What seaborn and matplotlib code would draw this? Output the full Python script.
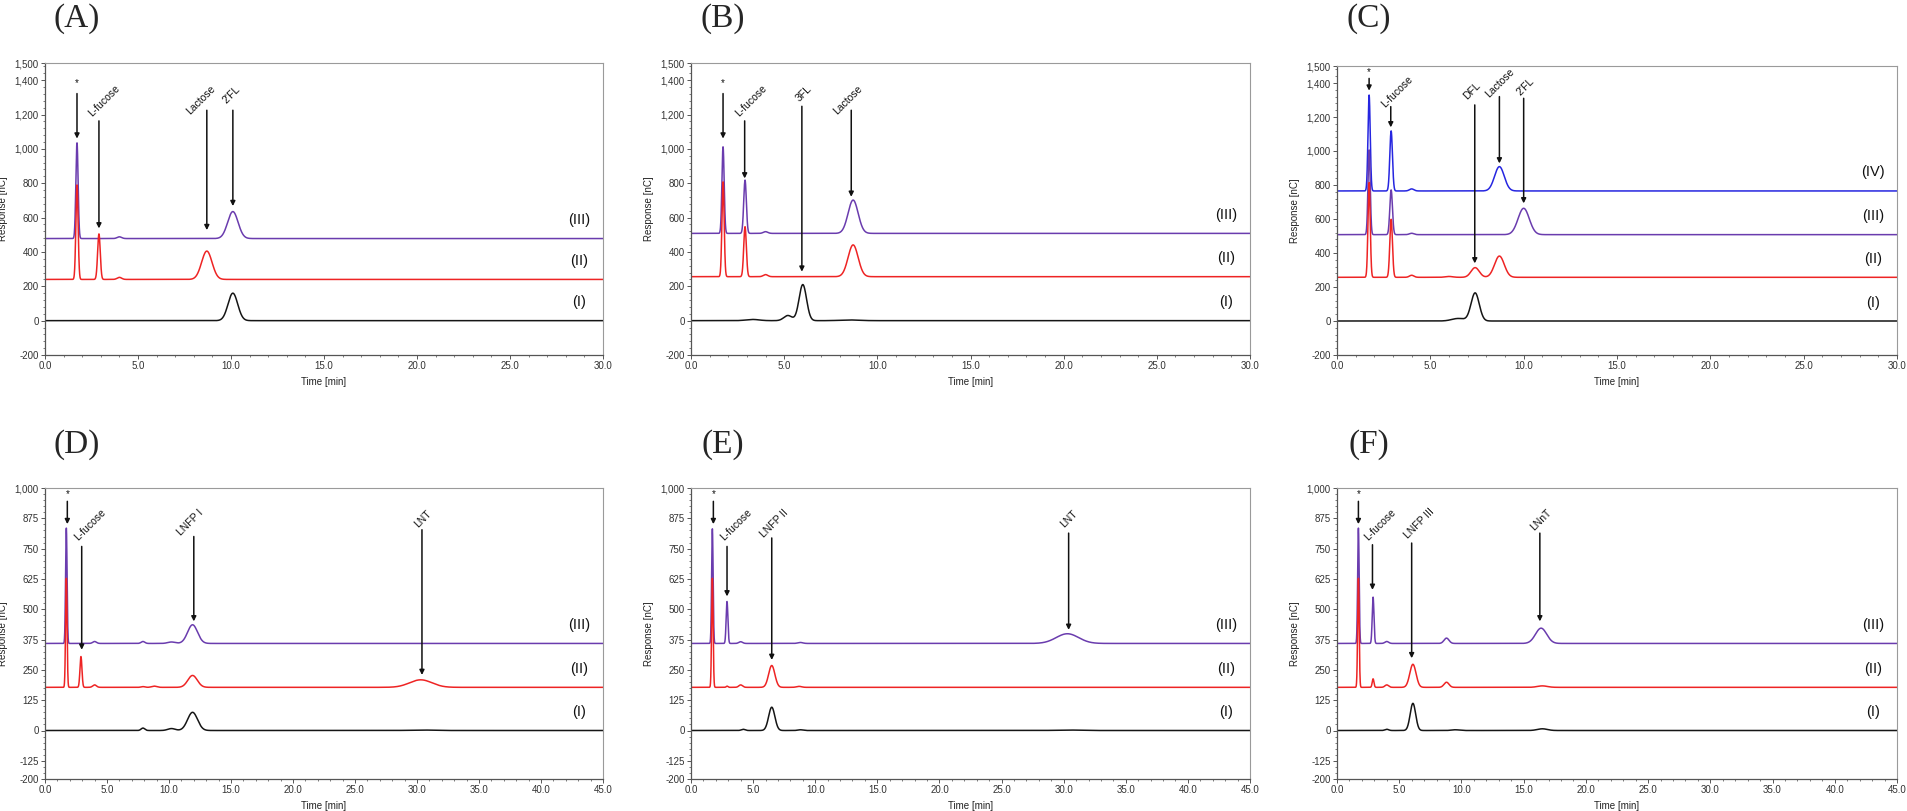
"""
HPAEC-PAD chromatograms of fucosylated HMOs, panels (A)-(F)
Output: out.png
"""

import numpy as np
import pandas as pd
import matplotlib
matplotlib.use("Agg")
import matplotlib.pyplot as plt
import seaborn as sns
from matplotlib.ticker import FixedLocator, MultipleLocator, FuncFormatter

# ---- peak tables ------------------------------------------------------------
# per trace (I), (II), (III)[, (IV)]: baseline [nC], retention times [min],
# peak heights above baseline [nC], peak widths (sigma) [min]
TRACE_NAMES = ["(I)", "(II)", "(III)", "(IV)"]

A_BASE = [0, 240, 478]
A_RT = [[10.1], [1.72, 2.9, 4.0, 8.7], [1.72, 4.0, 10.1]]
A_H = [[160], [550, 265, 12, 165], [557, 10, 157]]
A_W = [[0.26], [0.06, 0.07, 0.12, 0.28], [0.06, 0.12, 0.28]]

B_BASE = [0, 256, 508]
B_RT = [[3.3, 5.2, 6.0, 8.5], [1.72, 2.9, 4.0, 8.7], [1.72, 2.9, 4.0, 8.7]]
B_H = [[7, 30, 210, 4], [552, 291, 12, 185], [504, 310, 10, 194]]
B_W = [[0.35, 0.22, 0.2, 0.5], [0.06, 0.07, 0.12, 0.27], [0.06, 0.07, 0.12, 0.27]]

C_BASE = [0, 257, 508, 765]
C_RT = [[6.5, 7.4], [1.72, 2.9, 4.0, 6.0, 7.4, 8.7],
        [1.72, 2.9, 4.0, 10.0], [1.72, 2.9, 4.0, 8.7]]
C_H = [[15, 165], [557, 341, 12, 5, 57, 125], [498, 263, 8, 155], [564, 353, 12, 143]]
C_W = [[0.35, 0.22], [0.06, 0.07, 0.12, 0.2, 0.22, 0.26],
       [0.06, 0.07, 0.12, 0.3], [0.06, 0.07, 0.12, 0.26]]

D_BASE = [0, 178, 359]
D_RT = [[7.9, 10.2, 11.9, 30.3], [1.72, 2.9, 4.0, 7.9, 8.8, 11.9, 30.3],
        [1.72, 4.0, 7.9, 10.2, 11.9]]
D_H = [[10, 8, 75, 2], [450, 127, 10, 3, 5, 49, 31], [476, 8, 8, 6, 77]]
D_W = [[0.15, 0.3, 0.4, 0.9], [0.06, 0.08, 0.15, 0.15, 0.2, 0.38, 0.9],
       [0.06, 0.15, 0.15, 0.3, 0.4]]

E_BASE = [0, 178, 359]
E_RT = [[4.2, 6.5, 8.8, 30.3], [1.72, 2.9, 4.0, 6.5, 8.7], [1.72, 2.9, 4.0, 8.8, 30.3]]
E_H = [[5, 96, 3, 2], [450, 5, 10, 90, 4], [473, 173, 7, 4, 40]]
E_W = [[0.15, 0.25, 0.2, 0.9], [0.06, 0.07, 0.15, 0.25, 0.2], [0.06, 0.07, 0.15, 0.2, 0.9]]

F_BASE = [0, 178, 359]
F_RT = [[4.0, 6.1, 9.5, 16.5], [1.72, 2.9, 4.0, 6.1, 8.8, 16.5], [1.72, 2.9, 4.0, 8.8, 16.4]]
F_H = [[5, 112, 3, 7], [450, 35, 10, 95, 21, 6], [476, 191, 8, 22, 63]]
F_W = [[0.15, 0.22, 0.3, 0.4], [0.06, 0.07, 0.15, 0.25, 0.2, 0.4],
       [0.06, 0.07, 0.15, 0.2, 0.45]]

# ---- peak annotations: label, arrow x, arrow tail y, arrow tip y, text x, text y
A_ANN = [("*", 1.72, 1322, 1060, 1.72, 1384), ("L-fucose", 2.9, 1163, 537, 3.2, 1278),
         ("Lactose", 8.7, 1225, 527, 8.4, 1283), ("2'FL", 10.1, 1225, 667, 10.05, 1317)]
B_ANN = [("*", 1.72, 1322, 1060, 1.72, 1384), ("L-fucose", 2.88, 1163, 828, 3.2, 1278),
         ("3FL", 5.95, 1248, 285, 6.05, 1320), ("Lactose", 8.6, 1225, 721, 8.4, 1283)]
C_ANN = [("*", 1.72, 1427, 1355, 1.72, 1467), ("L-fucose", 2.88, 1261, 1139, 3.2, 1349),
         ("DFL", 7.38, 1271, 339, 7.25, 1354), ("Lactose", 8.7, 1320, 927, 8.7, 1398),
         ("2'FL", 10.0, 1310, 692, 10.1, 1378)]
D_ANN = [("*", 1.8, 945, 851, 1.8, 975), ("L-fucose", 2.96, 759, 333, 3.6, 849),
         ("LNFP I", 12.0, 800, 450, 11.75, 856), ("LNT", 30.4, 828, 229, 30.5, 873)]
E_ANN = [("*", 1.8, 945, 851, 1.8, 975), ("L-fucose", 2.9, 759, 553, 3.6, 849),
         ("LNFP II", 6.5, 794, 291, 6.7, 852), ("LNT", 30.4, 814, 415, 30.4, 873)]
F_ANN = [("*", 1.72, 945, 851, 1.72, 975), ("L-fucose", 2.85, 766, 580, 3.5, 849),
         ("LNFP III", 6.0, 773, 298, 6.65, 853), ("LNnT", 16.3, 814, 450, 16.35, 870)]

TRACE_COLORS = {"(I)": "#151515", "(II)": "#ee2424", "(III)": "#6a3cae", "(IV)": "#2626e0"}

FIG_W, FIG_H = 1908, 811


def build_frame(base, rts, hs, ws, t_max):
    """Sum of gaussian peaks on a flat baseline, one block per trace"""
    t = np.linspace(0, t_max, 6001)
    frames = []
    for i, b in enumerate(base):
        y = np.full_like(t, float(b))
        for rt, h, w in zip(rts[i], hs[i], ws[i]):
            y += h * np.exp(-0.5 * ((t - rt) / w) ** 2)
        frames.append(pd.DataFrame({"time": t, "response": y, "trace": TRACE_NAMES[i]}))
    return pd.concat(frames, ignore_index=True)


def style_axis(ax, t_max, ylim, yticks, yminor):
    ax.set_xlim(0, t_max)
    ax.set_ylim(*ylim)
    ax.xaxis.set_major_locator(MultipleLocator(5))
    ax.xaxis.set_minor_locator(MultipleLocator(1))
    ax.xaxis.set_major_formatter(FuncFormatter(lambda v, p: f"{v:.1f}"))
    ax.yaxis.set_major_locator(FixedLocator(yticks))
    ax.yaxis.set_minor_locator(MultipleLocator(yminor))
    ax.yaxis.set_major_formatter(FuncFormatter(lambda v, p: f"{v:,.0f}"))
    ax.tick_params(which="major", direction="out", length=3, width=0.7,
                   color="#555555", labelsize=7, labelcolor="#333333", pad=1.5)
    ax.tick_params(which="minor", direction="out", length=1.6, width=0.6, color="#666666")
    for side in ["top", "right"]:
        ax.spines[side].set_color("#9a9a9a")
        ax.spines[side].set_linewidth(0.8)
    for side in ["left", "bottom"]:
        ax.spines[side].set_color("#555555")
        ax.spines[side].set_linewidth(0.9)
    ax.set_xlabel("Time [min]", fontsize=7, color="#222222")
    ax.set_ylabel("Response [nC]", fontsize=7, color="#222222")
    ax.xaxis.set_label_coords(0.5, -0.075)
    ax.yaxis.set_label_coords(-0.066, 0.5)


def draw_panel(fig, rect, letter, title_y, base, rts, hs, ws, ann, t_max, ylim, yticks, yminor):
    ax = fig.add_axes(rect)
    df = build_frame(base, rts, hs, ws, t_max)
    order = TRACE_NAMES[:len(base)][::-1]
    sns.lineplot(data=df, x="time", y="response", hue="trace", hue_order=order,
                 palette=TRACE_COLORS, estimator=None, legend=False, lw=1.1, ax=ax)
    style_axis(ax, t_max, ylim, yticks, yminor)

    span = ylim[1] - ylim[0]
    for i, b in enumerate(base):
        ax.text(0.957 * t_max, b + 0.064 * span, TRACE_NAMES[i], ha="center",
                va="center", fontsize=10.5, color="#111111")

    for label, x, tail, tip, tx, ty in ann:
        ax.annotate("", xy=(x, tip), xytext=(x, tail),
                    arrowprops=dict(arrowstyle="-|>", color="#111111", lw=1.1,
                                    mutation_scale=7, shrinkA=0, shrinkB=0))
        if label == "*":
            ax.text(tx, ty, label, ha="center", va="center", fontsize=7, color="#111111")
        else:
            ax.text(tx, ty, label, ha="center", va="center", rotation=45,
                    rotation_mode="anchor", fontsize=7.5, color="#111111")

    fig.text(rect[0] + 32 / FIG_W, title_y, letter, ha="center", va="center",
             fontsize=24, family="Liberation Serif")
    return ax


def main():
    sns.set_theme(style="ticks")
    plt.rcParams["font.family"] = ["Liberation Sans", "DejaVu Sans"]

    fig = plt.figure(figsize=(FIG_W / 100, FIG_H / 100), dpi=100)

    top_bottom_px, bot_bottom_px, bot_top_px = 355, 779, 488
    top_tops_px = [63, 63, 66]
    lefts = [45 / FIG_W, 691 / FIG_W, 1337 / FIG_W]
    widths = [558 / FIG_W, 559 / FIG_W, 560 / FIG_W]

    top_ticks = [-200, 0, 200, 400, 600, 800, 1000, 1200, 1400, 1500]
    bot_ticks = [-200, -125, 0, 125, 250, 375, 500, 625, 750, 875, 1000]

    top = [("(A)", A_BASE, A_RT, A_H, A_W, A_ANN),
           ("(B)", B_BASE, B_RT, B_H, B_W, B_ANN),
           ("(C)", C_BASE, C_RT, C_H, C_W, C_ANN)]
    bottom = [("(D)", D_BASE, D_RT, D_H, D_W, D_ANN),
              ("(E)", E_BASE, E_RT, E_H, E_W, E_ANN),
              ("(F)", F_BASE, F_RT, F_H, F_W, F_ANN)]

    for k, (letter, base, rts, hs, ws, ann) in enumerate(top):
        rect = [lefts[k], 1 - top_bottom_px / FIG_H, widths[k],
                (top_bottom_px - top_tops_px[k]) / FIG_H]
        draw_panel(fig, rect, letter, 1 - 19 / FIG_H, base, rts, hs, ws,
                   ann, 30, (-200, 1500), top_ticks, 40)
    for k, (letter, base, rts, hs, ws, ann) in enumerate(bottom):
        rect = [lefts[k], 1 - bot_bottom_px / FIG_H, widths[k],
                (bot_bottom_px - bot_top_px) / FIG_H]
        draw_panel(fig, rect, letter, 1 - 445 / FIG_H, base, rts, hs, ws,
                   ann, 45, (-200, 1000), bot_ticks, 25)

    fig.savefig("out.png", dpi=100, facecolor="white")
    plt.close(fig)


if __name__ == "__main__":
    main()
